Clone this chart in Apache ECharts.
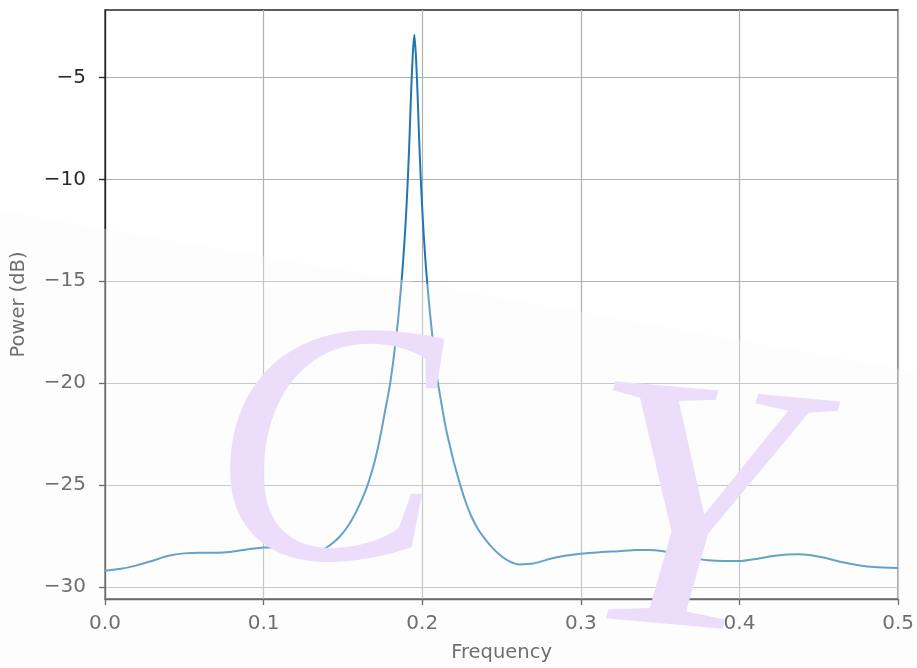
<!DOCTYPE html>
<html>
<head>
<meta charset="utf-8">
<script src="https://cdn.jsdelivr.net/npm/echarts@6/dist/echarts.min.js"></script>
<style>
  html, body { margin: 0; padding: 0; background: #ffffff; }
  #chart { width: 917px; height: 668px; }
</style>
</head>
<body>
<div id="chart"></div>
<script>
// Power spectral density estimate (dB) versus normalised frequency
const freq = [
  0.000, 0.010, 0.020, 0.030, 0.040, 0.050, 0.060, 0.070, 0.080, 0.090,
  0.100, 0.110, 0.120, 0.126, 0.132, 0.136, 0.140, 0.144, 0.148, 0.152,
  0.156, 0.160, 0.164, 0.166, 0.168, 0.170, 0.172, 0.174, 0.176, 0.178,
  0.180, 0.182, 0.184, 0.185, 0.186, 0.187, 0.188, 0.189, 0.190, 0.191,
  0.192, 0.193, 0.194, 0.195, 0.196, 0.197, 0.198, 0.199, 0.200, 0.201,
  0.202, 0.203, 0.205, 0.207, 0.209, 0.211, 0.213, 0.215, 0.2175, 0.220,
  0.2234, 0.227, 0.231, 0.235, 0.240, 0.245, 0.250, 0.255, 0.2612, 0.270,
  0.282, 0.290, 0.300, 0.312, 0.324, 0.335, 0.343, 0.352, 0.360, 0.370,
  0.380, 0.390, 0.400, 0.410, 0.420, 0.430, 0.437, 0.445, 0.455, 0.465,
  0.475, 0.485, 0.500
];
const powerDb = [
  -29.21, -29.12, -28.95, -28.72, -28.48, -28.36, -28.33, -28.33, -28.28, -28.16,
  -28.07, -28.07, -28.14, -28.22, -28.28, -28.22, -28.06, -27.83, -27.53, -27.15,
  -26.66, -26.05, -25.33, -24.90, -24.40, -23.85, -23.20, -22.45, -21.60, -20.80,
  -19.90, -18.75, -17.45, -16.70, -15.85, -14.95, -13.95, -12.80, -11.45, -9.85,
  -7.90, -5.70, -3.90, -2.90, -3.90, -5.70, -7.90, -9.85, -11.45, -12.80,
  -13.95, -14.95, -16.65, -18.15, -19.55, -20.50, -21.40, -22.25, -23.10, -23.90,
  -24.85, -25.75, -26.55, -27.15, -27.70, -28.15, -28.50, -28.75, -28.90, -28.86,
  -28.60, -28.48, -28.38, -28.30, -28.25, -28.19, -28.19, -28.26, -28.40, -28.58,
  -28.70, -28.74, -28.74, -28.64, -28.50, -28.41, -28.40, -28.45, -28.60, -28.80,
  -28.94, -29.03, -29.08
];
const xTicks = [0.0, 0.1, 0.2, 0.3, 0.4, 0.5];
const yTicks = [-30, -25, -20, -15, -10, -5];

const chart = echarts.init(document.getElementById('chart'), null, { renderer: 'canvas' });

const textColor = '#2b2b2b';
const spineColor = '#262626';
const gridColor = '#b0b0b0';
const labelFont = 'DejaVu Sans';

const option = {
  animation: false,
  backgroundColor: '#ffffff',
  grid: {
    left: 105, right: 18, top: 10, bottom: 65,
    show: true, borderColor: spineColor, borderWidth: 1.3,
    containLabel: false
  },
  xAxis: {
    type: 'value',
    min: 0, max: 0.5, interval: 0.1,
    name: 'Frequency',
    nameLocation: 'middle',
    nameGap: 44,
    nameTextStyle: { color: textColor, fontFamily: labelFont, fontSize: 19.5 },
    axisLine: { show: true, onZero: false, lineStyle: { color: spineColor, width: 1.3 } },
    axisTick: { show: true, inside: false, length: 6, lineStyle: { color: spineColor, width: 1.3 } },
    axisLabel: {
      color: textColor, fontFamily: labelFont, fontSize: 20, margin: 15,
      customValues: xTicks,
      formatter: v => v.toFixed(1)
    },
    splitLine: { show: true, lineStyle: { color: gridColor, width: 1.2 } }
  },
  yAxis: {
    type: 'value',
    min: -30.6, max: -1.68,
    name: 'Power (dB)',
    nameLocation: 'middle',
    nameGap: 76,
    nameTextStyle: { color: textColor, fontFamily: labelFont, fontSize: 19.5 },
    axisLine: { show: true, onZero: false, lineStyle: { color: spineColor, width: 1.3 } },
    axisTick: {
      show: true, inside: false, length: 6, customValues: yTicks,
      lineStyle: { color: spineColor, width: 1.3 }
    },
    axisLabel: {
      color: textColor, fontFamily: labelFont, fontSize: 20, margin: 19,
      customValues: yTicks,
      formatter: v => String(v).replace('-', '\u2212')
    },
    splitLine: { show: true, lineStyle: { color: gridColor, width: 1.2 } }
  },
  series: [{
    type: 'line',
    data: freq.map((f, i) => [f, powerDb[i]]),
    showSymbol: false,
    smooth: 0.2,
    lineStyle: { color: '#1f77b4', width: 2 },
    z: 3
  }],
  graphic: [
    {
      // faint light wash over the lower part of the figure
      type: 'polygon',
      z: 50,
      silent: true,
      shape: {
        points: [[0, 210], [105, 229], [420, 283], [739, 340], [917, 372], [917, 668], [0, 668]]
      },
      style: { fill: 'rgba(250,250,250,0.33)' }
    },
    {
      type: 'text',
      z: 60,
      silent: true,
      x: 326, y: 468,
      style: {
        text: 'C',
        font: 'italic 345px "Liberation Serif"',
        fill: 'rgb(236,221,250)',
        align: 'center',
        verticalAlign: 'middle',
        blend: 'multiply'
      }
    },
    {
      type: 'text',
      z: 60,
      silent: true,
      x: 686, y: 530,
      rotation: -0.09,
      scaleX: 1.07,
      style: {
        text: 'Y',
        font: 'italic 362px "Liberation Serif"',
        fill: 'rgb(236,221,250)',
        align: 'center',
        verticalAlign: 'middle',
        blend: 'multiply'
      }
    }
  ]
};

chart.setOption(option);
</script>
</body>
</html>
